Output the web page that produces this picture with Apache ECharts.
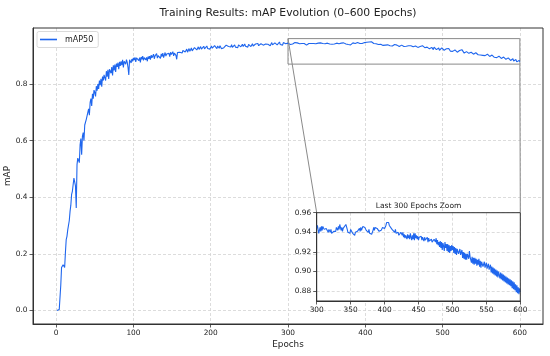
<!DOCTYPE html>
<html>
<head>
<meta charset="utf-8">
<script src="https://cdn.jsdelivr.net/npm/echarts@6/dist/echarts.min.js"></script>
<style>html,body{margin:0;padding:0;background:#fff;}#chart{width:550px;height:356px;}</style>
</head>
<body>
<div id="chart"></div>
<script>
// ---- data ----
const firstEpoch = 1;
const map50 = [
// 1-20
0.000,0.001,0.002,0.004,0.006,0.090,0.152,0.158,0.162,0.158,0.152,0.205,0.250,0.262,0.285,0.292,0.318,0.350,0.372,0.410,
// 21-40
0.421,0.415,0.468,0.475,0.440,0.362,0.515,0.538,0.530,0.522,0.585,0.607,0.550,0.615,0.628,0.600,0.655,0.648,0.675,0.668,
// 41-60
0.700,0.712,0.690,0.735,0.748,0.722,0.765,0.748,0.778,0.770,0.756,0.792,0.776,0.800,0.782,0.812,0.796,0.818,0.790,0.826,
// 61-80
0.812,0.832,0.838,0.812,0.845,0.826,0.850,0.818,0.852,0.858,0.838,0.860,0.830,0.866,0.848,0.868,0.842,0.872,0.860,0.875,
// 81-100
0.852,0.878,0.864,0.880,0.866,0.885,0.858,0.880,0.884,0.870,0.886,0.876,0.858,0.832,0.885,0.890,0.874,0.888,0.880,0.892,
// 101-120
0.884,0.894,0.878,0.892,0.886,0.896,0.882,0.893,0.876,0.895,0.887,0.898,0.883,0.893,0.900,0.885,0.894,0.880,0.897,0.889,
// 121-140
0.898,0.886,0.902,0.892,0.897,0.905,0.889,0.899,0.894,0.907,0.891,0.900,0.895,0.904,0.890,0.906,0.897,0.909,0.893,0.902,
// 141-160
0.911,0.898,0.906,0.913,0.901,0.908,0.896,0.912,0.904,0.902,0.914,0.899,0.909,0.905,0.901,0.887,0.911,0.915,0.905,0.912,
// 161-180
0.907,0.917,0.909,0.918,0.911,0.921,0.913,0.917,0.923,0.912,0.919,0.925,0.915,0.921,0.927,0.917,0.923,0.919,0.928,0.921,
// 181-200
0.928,0.920,0.926,0.931,0.922,0.927,0.932,0.923,0.929,0.925,0.933,0.924,0.930,0.926,0.934,0.925,0.929,0.932,0.923,0.930,
// 201-220
0.934,0.926,0.931,0.927,0.935,0.928,0.932,0.925,0.934,0.929,0.926,0.935,0.928,0.924,0.931,0.918,0.928,0.935,0.929,0.937,
// 221-240
0.930,0.938,0.932,0.928,0.937,0.931,0.939,0.929,0.935,0.932,0.938,0.930,0.936,0.933,0.928,0.938,0.932,0.939,0.931,0.935,
// 241-260
0.940,0.932,0.936,0.941,0.933,0.938,0.934,0.930,0.940,0.935,0.941,0.932,0.937,0.942,0.934,0.938,0.933,0.941,0.935,0.939,
// 261-280
0.943,0.935,0.939,0.934,0.942,0.936,0.944,0.937,0.940,0.933,0.941,0.945,0.936,0.940,0.937,0.944,0.935,0.941,0.946,0.938,
// 281-300
0.942,0.937,0.945,0.939,0.947,0.938,0.943,0.940,0.948,0.939,0.944,0.941,0.937,0.946,0.940,0.948,0.942,0.939,0.947,0.944,
// 301-320
0.947,0.943,0.939,0.941,0.945,0.941,0.946,0.942,0.946,0.948,0.943,0.945,0.941,0.944,0.942,0.946,0.940,0.943,0.941,0.940,
// 321-340
0.943,0.939,0.939,0.937,0.941,0.939,0.943,0.941,0.945,0.943,0.942,0.946,0.943,0.948,0.945,0.942,0.945,0.941,0.944,0.942,
// 341-360
0.945,0.945,0.948,0.946,0.943,0.940,0.938,0.942,0.939,0.943,0.944,0.941,0.939,0.941,0.938,0.937,0.940,0.942,0.939,0.941,
// 361-380
0.943,0.940,0.944,0.941,0.945,0.942,0.944,0.946,0.944,0.947,0.945,0.945,0.942,0.944,0.941,0.940,0.943,0.939,0.939,0.937,
// 381-400
0.938,0.940,0.942,0.945,0.942,0.945,0.943,0.946,0.944,0.946,0.943,0.941,0.943,0.940,0.942,0.943,0.945,0.943,0.946,0.944,
// 401-420
0.946,0.947,0.950,0.951,0.948,0.950,0.947,0.949,0.946,0.946,0.943,0.945,0.942,0.942,0.940,0.943,0.939,0.941,0.938,0.940,
// 421-440
0.937,0.939,0.936,0.940,0.938,0.937,0.940,0.935,0.938,0.934,0.937,0.935,0.933,0.938,0.934,0.937,0.933,0.939,0.935,0.932,
// 441-460
0.937,0.933,0.939,0.932,0.939,0.934,0.937,0.933,0.936,0.932,0.935,0.937,0.933,0.936,0.932,0.935,0.933,0.931,0.935,0.932,
// 461-480
0.934,0.931,0.935,0.930,0.934,0.931,0.933,0.929,0.933,0.930,0.932,0.928,0.933,0.935,0.930,0.934,0.928,0.932,0.927,0.930,
// 481-500
0.925,0.931,0.924,0.930,0.922,0.929,0.926,0.921,0.930,0.924,0.928,0.921,0.928,0.920,0.927,0.919,0.926,0.921,0.927,0.922,
// 501-520
0.926,0.919,0.925,0.918,0.924,0.917,0.923,0.925,0.918,0.916,0.923,0.917,0.915,0.922,0.914,0.920,0.913,0.919,0.912,0.918,
// 521-540
0.912,0.918,0.920,0.913,0.921,0.915,0.914,0.909,0.915,0.908,0.914,0.907,0.914,0.908,0.913,0.906,0.912,0.907,0.913,0.905,
// 541-560
0.911,0.904,0.910,0.912,0.905,0.903,0.910,0.904,0.902,0.909,0.903,0.901,0.908,0.902,0.900,0.907,0.899,0.905,0.898,0.904,
// 561-580
0.897,0.903,0.896,0.902,0.895,0.901,0.894,0.900,0.901,0.893,0.899,0.892,0.898,0.891,0.897,0.890,0.896,0.889,0.895,0.888,
// 581-600
0.894,0.887,0.893,0.886,0.892,0.885,0.891,0.883,0.890,0.882,0.889,0.881,0.887,0.879,0.886,0.878,0.884,0.877,0.883,0.879
];
const xTicks = [0, 100, 200, 300, 400, 500, 600];
const yTicks = [0.0, 0.2, 0.4, 0.6, 0.8];
const insetXTicks = [300, 350, 400, 450, 500, 550, 600];
const insetYTicks = [0.88, 0.90, 0.92, 0.94, 0.96];
const mainX = [-29.95, 629.95];
const mainY = [-0.0475, 0.9975];
const zoomX = [300, 600];
const zoomY = [0.87, 0.96];

// ---- build ----
const pairs = map50.map((v, i) => [firstEpoch + i, v]);
const insetPairs = pairs.filter(p => p[0] >= zoomX[0] && p[0] <= zoomX[1]);

const FONT = 'DejaVu Sans';
const lineColor = '#1f66ee';
const gridLine = { show: true, lineStyle: { color: '#d3d3d3', width: 0.8, type: [3, 2] } };
const spine = '#333';
const txt = '#222';

const chart = echarts.init(document.getElementById('chart'), null, { renderer: 'canvas' });
const option = {
  animation: false,
  backgroundColor: '#fff',
  textStyle: { fontFamily: FONT },
  title: [
    { text: 'Training Results: mAP Evolution (0–600 Epochs)', left: 288, top: 8, padding: 0, textAlign: 'center',
      textStyle: { fontFamily: FONT, fontSize: 10.8, fontWeight: 'normal', color: txt } },
    { text: 'Last 300 Epochs Zoom', left: 418.5, top: 202, padding: 0, textAlign: 'center',
      textStyle: { fontFamily: FONT, fontSize: 7.5, fontWeight: 'normal', color: txt } }
  ],
  legend: {
    left: 37, top: 31.5, orient: 'vertical', icon: 'rect',
    padding: [4, 5, 4, 3], itemWidth: 17, itemHeight: 1.6, itemGap: 4,
    backgroundColor: '#fff', borderColor: '#d0d0d0', borderWidth: 0.8, borderRadius: 2,
    textStyle: { fontFamily: FONT, fontSize: 8, color: txt, padding: [0, 0, 0, 3] },
    data: [{ name: 'mAP50' }]
  },
  grid: [
    { left: 33, top: 28, width: 510, height: 296, show: false, outerBoundsMode: 'none', containLabel: false },
    { left: 316.7, top: 212.7, width: 203.6, height: 88.3, show: true, borderWidth: 0, backgroundColor: '#fff', z: 5, outerBoundsMode: 'none', containLabel: false }
  ],
  xAxis: [
    { type: 'value', gridIndex: 0, min: mainX[0], max: mainX[1],
      name: 'Epochs', nameLocation: 'middle', nameGap: 16, nameMoveOverlap: false,
      nameTextStyle: { fontFamily: FONT, fontSize: 8.8, color: txt },
      axisLine: { show: true, onZero: false, lineStyle: { color: spine, width: 1 } },
      axisTick: { show: true, length: 3.5, lineStyle: { color: spine, width: 0.8 }, customValues: xTicks },
      axisLabel: { fontFamily: FONT, fontSize: 7.4, color: txt, margin: 6, customValues: xTicks, formatter: v => String(v) },
      splitLine: gridLine },
    { type: 'value', gridIndex: 1, min: zoomX[0], max: zoomX[1], interval: 50, z: 6,
      axisLine: { show: true, onZero: false, lineStyle: { color: spine, width: 1 } },
      axisTick: { show: true, length: 3.5, lineStyle: { color: spine, width: 0.8 }, customValues: insetXTicks },
      axisLabel: { fontFamily: FONT, fontSize: 7.4, color: txt, margin: 6, customValues: insetXTicks, formatter: v => String(v) },
      splitLine: gridLine }
  ],
  yAxis: [
    { type: 'value', gridIndex: 0, min: mainY[0], max: mainY[1],
      name: 'mAP', nameLocation: 'middle', nameGap: 21, nameRotate: 90, nameMoveOverlap: false,
      nameTextStyle: { fontFamily: FONT, fontSize: 8.8, color: txt },
      axisLine: { show: true, onZero: false, lineStyle: { color: spine, width: 1 } },
      axisTick: { show: true, length: 3.5, lineStyle: { color: spine, width: 0.8 }, customValues: yTicks },
      axisLabel: { fontFamily: FONT, fontSize: 7.4, color: txt, margin: 5.5, customValues: yTicks, formatter: v => v.toFixed(1) },
      splitLine: gridLine },
    { type: 'value', gridIndex: 1, min: zoomY[0], max: zoomY[1], z: 6,
      axisLine: { show: true, onZero: false, lineStyle: { color: spine, width: 1 } },
      axisTick: { show: true, length: 3.5, lineStyle: { color: spine, width: 0.8 }, customValues: insetYTicks },
      axisLabel: { fontFamily: FONT, fontSize: 7.4, color: txt, margin: 5.5, customValues: insetYTicks, formatter: v => v.toFixed(2) },
      splitLine: gridLine }
  ],
  series: [
    { name: 'mAP50', type: 'line', xAxisIndex: 0, yAxisIndex: 0, data: pairs,
      symbol: 'none', lineStyle: { color: lineColor, width: 1.1 }, itemStyle: { color: lineColor }, z: 3,
      markArea: { silent: true, itemStyle: { color: 'rgba(0,0,0,0)', borderColor: '#8a8a8a', borderWidth: 1 },
        data: [[{ coord: [zoomX[0], zoomY[1]] }, { coord: [zoomX[1], zoomY[0]] }]] } },
    { name: 'inset', type: 'line', xAxisIndex: 1, yAxisIndex: 1, data: insetPairs,
      symbol: 'none', lineStyle: { color: lineColor, width: 1.1 }, z: 7 }
  ]
};
chart.setOption(option);

// frames and connector lines, positioned through the coordinate systems
const m0 = chart.convertToPixel({ gridIndex: 0 }, [mainX[0], mainY[1]]);
const m1 = chart.convertToPixel({ gridIndex: 0 }, [mainX[1], mainY[0]]);
const i0 = chart.convertToPixel({ gridIndex: 1 }, [zoomX[0], zoomY[1]]);
const i1 = chart.convertToPixel({ gridIndex: 1 }, [zoomX[1], zoomY[0]]);
const a1 = chart.convertToPixel({ gridIndex: 0 }, [zoomX[0], zoomY[1]]);
const a2 = chart.convertToPixel({ gridIndex: 0 }, [zoomX[1], zoomY[0]]);
chart.setOption({
  graphic: [
    { type: 'rect', z: 2, silent: true, shape: { x: m0[0], y: m0[1], width: m1[0] - m0[0], height: m1[1] - m0[1] },
      style: { fill: 'none', stroke: spine, lineWidth: 1 } },
    { type: 'line', z: 4, silent: true, shape: { x1: a1[0], y1: a1[1], x2: i0[0], y2: i0[1] }, style: { stroke: '#8a8a8a', lineWidth: 1 } },
    { type: 'line', z: 4, silent: true, shape: { x1: a2[0], y1: a2[1], x2: i1[0], y2: i0[1] }, style: { stroke: '#8a8a8a', lineWidth: 1 } },
    { type: 'rect', z: 20, silent: true, shape: { x: i0[0], y: i0[1], width: i1[0] - i0[0], height: i1[1] - i0[1] },
      style: { fill: 'none', stroke: spine, lineWidth: 1 } }
  ]
});
</script>
</body>
</html>
